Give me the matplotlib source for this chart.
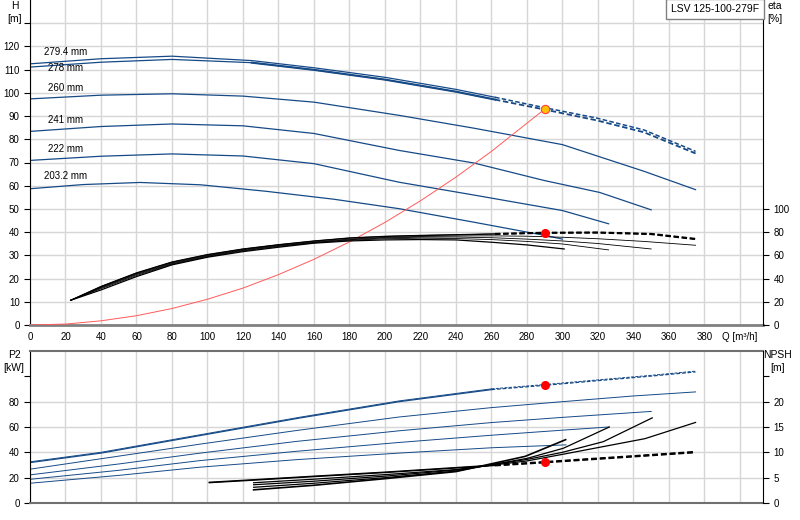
import numpy as np
import matplotlib
matplotlib.use('Agg')
import matplotlib.pyplot as plt

plt.rcParams['font.family'] = ['Liberation Sans', 'DejaVu Sans']
plt.rcParams['font.size'] = 7

# ---- head curves H(Q), one per impeller diameter ----
diam_labels = ['279.4 mm', '278 mm', '260 mm', '241 mm', '222 mm', '203.2 mm']
label_h = [117.4, 110.5, 101.9, 88.5, 76.0, 64.3]

q_h_top = [0, 40, 80, 125, 160, 200, 240, 262, 290, 319, 346, 375]
h_2794 = [112.5, 114.7, 115.8, 113.9, 110.8, 106.7, 101.5, 98.1, 93.6, 89.2, 84.0, 74.8]
h_278 = [111.1, 113.2, 114.4, 113.0, 109.9, 105.7, 100.5, 97.1, 92.8, 88.2, 83.0, 73.9]
q_h_260 = [0, 40, 80, 120, 160, 208, 250, 300, 346, 375]
h_260 = [97.4, 99.0, 99.6, 98.6, 96.0, 90.3, 84.8, 77.7, 66.2, 58.3]
q_h_241 = [0, 40, 80, 120, 160, 208, 250, 290, 321, 350]
h_241 = [83.4, 85.5, 86.6, 85.8, 82.5, 75.2, 69.8, 62.2, 57.1, 49.6]
q_h_222 = [0, 40, 80, 120, 160, 208, 250, 300, 326]
h_222 = [70.9, 72.7, 73.7, 72.8, 69.5, 61.5, 56.0, 49.3, 43.6]
q_h_2032 = [0, 30, 62, 96, 133, 171, 208, 250, 290, 300]
h_2032 = [58.7, 60.5, 61.4, 60.4, 57.6, 54.2, 50.1, 44.3, 38.6, 37.0]

# system curve
q_sys = [0, 20, 40, 60, 80, 100, 120, 140, 160, 180, 200, 220, 240, 260, 290]
h_sys = [0, 0.4, 1.8, 4.0, 7.1, 11.1, 15.9, 21.7, 28.3, 35.8, 44.2, 53.5, 63.7, 74.8, 93.0]

# ---- efficiency curves ----
q_eta_top = [22.9, 40, 60, 80, 100, 120, 140, 160, 180, 200, 220, 240, 262, 290, 320, 350, 375]
eta_278 = [21.3, 33.0, 44.6, 54.0, 60.4, 65.3, 69.0, 72.2, 74.8, 76.2, 77.0, 77.6, 78.3, 79.3, 79.5, 78.2, 73.9]
eta_2794 = [21.3, 33.3, 45.0, 54.4, 60.8, 65.6, 69.3, 72.5, 75.1, 76.5, 77.3, 77.9, 78.6, 79.6, 79.8, 78.6, 74.3]
q_eta_260 = [22.9, 40, 60, 80, 100, 120, 140, 160, 180, 200, 220, 240, 260, 280, 300, 320, 346, 375]
eta_260 = [21.3, 32.5, 44.0, 53.4, 59.8, 64.8, 68.6, 71.6, 74.0, 75.5, 76.3, 76.7, 76.8, 76.5, 75.6, 74.3, 72.0, 68.7]
q_eta_241 = [22.9, 40, 60, 80, 100, 120, 140, 160, 180, 200, 220, 240, 260, 280, 300, 320, 350]
eta_241 = [21.3, 32.0, 43.4, 52.8, 59.3, 64.3, 68.1, 71.1, 73.5, 75.0, 75.7, 75.8, 75.2, 74.0, 72.4, 70.2, 65.5]
q_eta_222 = [22.9, 40, 60, 80, 100, 120, 140, 160, 180, 200, 220, 240, 260, 280, 300, 326]
eta_222 = [21.3, 31.3, 42.6, 52.3, 58.8, 63.8, 67.6, 70.8, 73.0, 74.3, 74.8, 74.5, 73.6, 72.0, 69.8, 64.7]
q_eta_2032 = [22.9, 40, 60, 80, 100, 120, 140, 160, 180, 200, 220, 240, 260, 280, 301]
eta_2032 = [21.3, 30.2, 41.7, 51.8, 58.4, 63.2, 67.0, 70.5, 72.4, 73.3, 73.6, 73.3, 71.3, 69.0, 65.5]

# ---- shaft power P2 ----
q_p2_top = [0, 40, 96, 152, 208, 260, 290, 320, 350, 375]
p2_278 = [31.9, 39.4, 53.3, 67.1, 80.0, 89.5, 92.9, 96.6, 100.2, 103.5]
p2_2794 = [32.5, 40.0, 53.9, 67.7, 80.6, 90.1, 93.5, 97.2, 100.8, 104.1]
q_p2_260 = [0, 50, 96, 150, 208, 260, 300, 340, 375]
p2_260 = [26.7, 37.0, 46.5, 57.2, 67.9, 75.3, 80.0, 84.5, 87.7]
q_p2_241 = [0, 50, 96, 150, 208, 260, 300, 350]
p2_241 = [22.2, 30.8, 39.4, 48.6, 57.0, 63.5, 67.6, 72.3]
q_p2_222 = [0, 50, 96, 150, 208, 260, 300, 326]
p2_222 = [18.7, 25.8, 33.5, 40.8, 47.8, 53.5, 57.5, 60.0]
q_p2_2032 = [0, 50, 96, 150, 208, 260, 302]
p2_2032 = [15.6, 21.8, 28.3, 34.2, 39.4, 43.6, 45.9]

# ---- NPSH ----
q_npsh_top = [101, 126, 160, 200, 240, 262, 290, 320, 350, 375]
npsh_278 = [4.0, 4.5, 5.2, 6.0, 6.9, 7.4, 8.0, 8.7, 9.4, 10.0]
npsh_2794 = [4.1, 4.6, 5.3, 6.1, 7.0, 7.5, 8.1, 8.8, 9.5, 10.1]
q_npsh_260 = [126, 160, 200, 240, 280, 300, 346.5, 375]
npsh_260 = [4.0, 4.7, 5.6, 6.6, 8.3, 9.6, 12.7, 15.9]
q_npsh_241 = [126, 160, 200, 240, 280, 300, 323, 350.6]
npsh_241 = [3.6, 4.3, 5.3, 6.5, 8.6, 10.0, 12.1, 16.8]
q_npsh_222 = [126, 160, 200, 240, 280, 300.5, 326.4]
npsh_222 = [3.1, 3.9, 5.0, 6.3, 8.8, 10.8, 15.0]
q_npsh_2032 = [126, 160, 200, 240, 279, 301.8]
npsh_2032 = [2.6, 3.5, 4.8, 6.2, 9.2, 12.5]

# duty point
q_duty = 290
h_duty = 93.0
eta_duty = 79.3
p2_duty = 92.9
npsh_duty = 8.0

BLUE = '#164a87'
GRID = '#d6d6d6'
DASH = (0, (3, 1.5))


def split_plot(ax, q, v, q_cut, color, lw, lw_dash=None):
    q = np.asarray(q, dtype=float)
    v = np.asarray(v, dtype=float)
    m1 = q <= q_cut
    m2 = q >= q_cut
    ax.plot(q[m1], v[m1], color=color, lw=lw)
    ax.plot(q[m2], v[m2], color=color, lw=lw_dash or lw, ls=DASH)


fig = plt.figure(figsize=(8, 5.2), dpi=100)
ax1 = fig.add_axes([0.0375, 0.375, 0.91625, 0.625])
ax1r = ax1.twinx()
ax2 = fig.add_axes([0.0375, 0.0327, 0.91625, 0.2923])
ax2r = ax2.twinx()

# ---------- top panel ----------
ax1.plot(q_sys, h_sys, color='#ff5a5a', lw=0.7, zorder=3)
split_plot(ax1, q_h_top, h_2794, 262, BLUE, 0.9, 1.1)
split_plot(ax1, q_h_top, h_278, 262, BLUE, 0.9, 1.3)
# thicker operating range on the rated curve
qa = np.asarray(q_h_top)
sel = (qa >= 125) & (qa <= 262)
ax1.plot(qa[sel], np.asarray(h_278)[sel], color=BLUE, lw=1.5)
ax1.plot(q_h_260, h_260, color=BLUE, lw=0.9)
ax1.plot(q_h_241, h_241, color=BLUE, lw=0.9)
ax1.plot(q_h_222, h_222, color=BLUE, lw=0.9)
ax1.plot(q_h_2032, h_2032, color=BLUE, lw=0.9)
ax1.plot(q_duty, h_duty, 'o', ms=6, mfc='#ffc000', mec='#ff4040', mew=0.8, zorder=6)
for lab, yy in zip(diam_labels, label_h):
    ax1.text(20, yy, lab, ha='center', va='center', fontsize=7)

split_plot(ax1r, q_eta_top, eta_2794, 262, 'black', 0.7, 1.3)
split_plot(ax1r, q_eta_top, eta_278, 262, 'black', 0.8, 1.3)
ax1r.plot(q_eta_260, eta_260, color='black', lw=0.6)
ax1r.plot(q_eta_241, eta_241, color='black', lw=0.6)
ax1r.plot(q_eta_222, eta_222, color='black', lw=0.6)
ax1r.plot(q_eta_2032, eta_2032, color='black', lw=0.9)
ax1r.plot(q_duty, eta_duty, 'o', ms=5.5, color='#ff0000', zorder=6)

ax1.set_xlim(0, 413)
ax1.set_ylim(0, 140)
ax1r.set_ylim(0, 280)
xt = list(range(0, 401, 20))
ax1.set_xticks(xt)
ax1.set_xticklabels([str(v) for v in xt[:-1]] + ['Q [m³/h]'])
yt = list(range(0, 131, 10))
ax1.set_yticks(yt)
ax1.set_yticklabels([str(v) for v in yt[:-1]] + [''])
ax1r.set_yticks(range(0, 101, 20))
ax1.grid(True, color=GRID, lw=1)
ax1.set_axisbelow(True)
ax1.tick_params(axis='x', length=0, pad=5)
ax1.tick_params(axis='y', length=4, width=0.8)
ax1r.tick_params(axis='y', length=4, width=0.8)
for s in ('top', 'right'):
    ax1.spines[s].set_visible(False)
for s in ('top', 'left', 'bottom'):
    ax1r.spines[s].set_visible(False)
ax1.spines['bottom'].set_color('#808080')
ax1.spines['bottom'].set_linewidth(2)
ax1.spines['left'].set_color('black')
ax1r.spines['right'].set_color('black')

# ---------- bottom panel ----------
split_plot(ax2, q_p2_top, p2_2794, 260, BLUE, 0.7)
split_plot(ax2, q_p2_top, p2_278, 260, BLUE, 0.9)
ax2.plot(q_p2_260, p2_260, color=BLUE, lw=0.7)
ax2.plot(q_p2_241, p2_241, color=BLUE, lw=0.7)
ax2.plot(q_p2_222, p2_222, color=BLUE, lw=0.7)
ax2.plot(q_p2_2032, p2_2032, color=BLUE, lw=0.7)
ax2.plot(q_duty, p2_duty, 'o', ms=5.5, color='#ff0000', zorder=6)

split_plot(ax2r, q_npsh_top, npsh_2794, 262, 'black', 0.9, 1.4)
split_plot(ax2r, q_npsh_top, npsh_278, 262, 'black', 0.9, 1.4)
ax2r.plot(q_npsh_260, npsh_260, color='black', lw=0.9)
ax2r.plot(q_npsh_241, npsh_241, color='black', lw=0.9)
ax2r.plot(q_npsh_222, npsh_222, color='black', lw=0.9)
ax2r.plot(q_npsh_2032, npsh_2032, color='black', lw=1.2)
ax2r.plot(q_duty, npsh_duty, 'o', ms=5.5, color='#ff0000', zorder=6)

ax2.set_xlim(0, 413)
ax2.set_ylim(0, 120)
ax2r.set_ylim(0, 30)
ax2.set_xticks(xt)
ax2.set_xticklabels([])
ax2.set_yticks([0, 20, 40, 60, 80])
ax2.set_yticks([100], minor=True)
ax2r.set_yticks([0, 5, 10, 15, 20])
ax2r.set_yticks([25], minor=True)
ax2.grid(True, color=GRID, lw=1)
ax2.set_axisbelow(True)
ax2.tick_params(axis='x', length=0)
ax2.tick_params(axis='y', which='both', length=4, width=0.8)
ax2r.tick_params(axis='y', which='both', length=4, width=0.8)
ax2.spines['right'].set_visible(False)
for s in ('top', 'left', 'bottom'):
    ax2r.spines[s].set_visible(False)
for s in ('top', 'bottom'):
    ax2.spines[s].set_color('#707070')
    ax2.spines[s].set_linewidth(1.5)
ax2.spines['left'].set_color('black')
ax2r.spines['right'].set_color('black')

# axis titles
fig.text(15 / 800, 1 - 1 / 520, 'H\n[m]', ha='center', va='top', fontsize=7.5, linespacing=1.4)
fig.text(767 / 800, 1 - 1 / 520, 'eta\n[%]', ha='left', va='top', fontsize=7.5, linespacing=1.4)
fig.text(14 / 800, 1 - 350 / 520, 'P2\n[kW]', ha='center', va='top', fontsize=7.5, linespacing=1.4)
fig.text(778 / 800, 1 - 350 / 520, 'NPSH\n[m]', ha='center', va='top', fontsize=7.5, linespacing=1.4)
fig.text(715 / 800, 1 - 9 / 520, 'LSV 125-100-279F', ha='center', va='center', fontsize=7.5,
         bbox=dict(boxstyle='square,pad=0.45', fc='white', ec='#808080', lw=1))

fig.savefig('out.png', dpi=100)
